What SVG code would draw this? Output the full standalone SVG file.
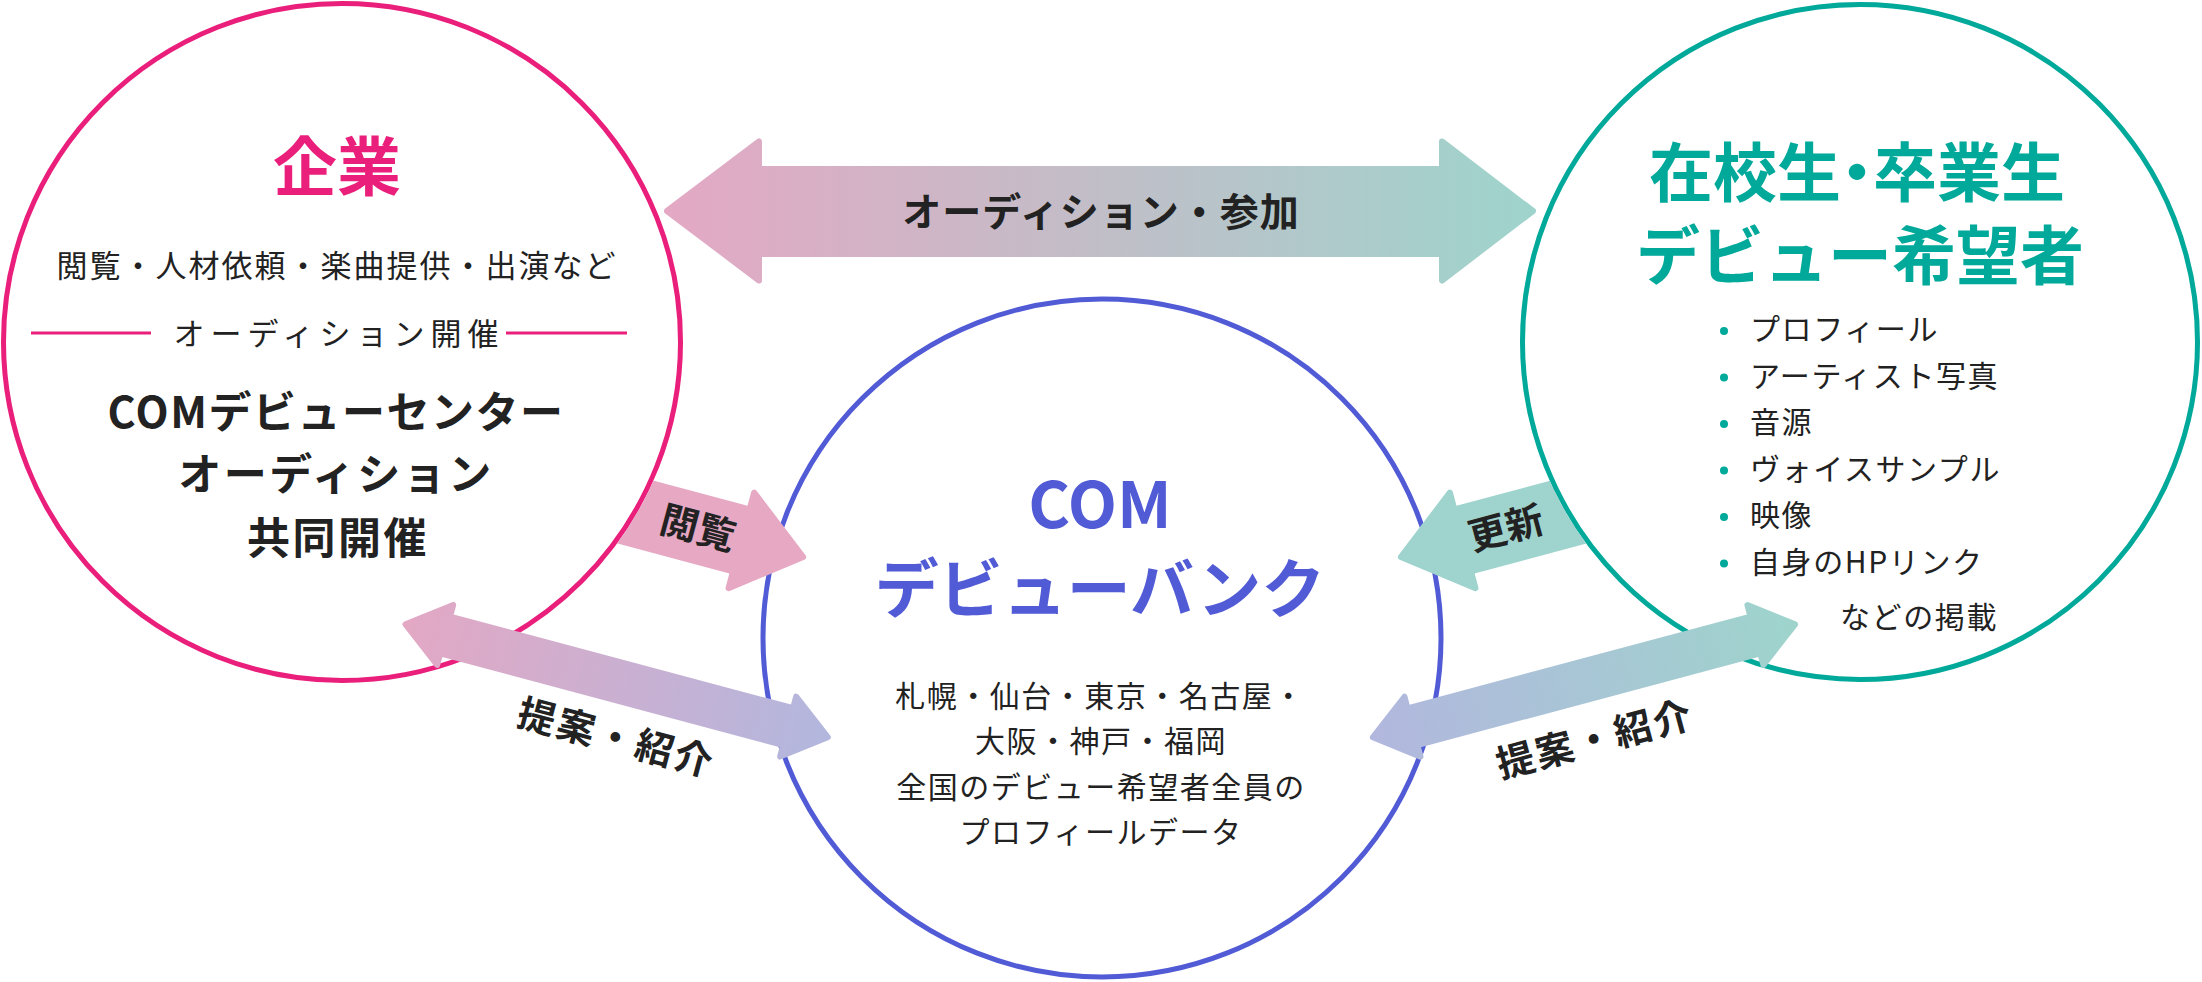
<svg xmlns="http://www.w3.org/2000/svg" width="2202" height="982" viewBox="0 0 2202 982">
<style>
text{font-family:"Noto Sans CJK JP","Noto Sans",sans-serif;text-anchor:middle}
.reg{font-weight:400;fill:#222}
.b{font-weight:700;fill:#222}
.ring{fill:#fff;stroke-width:5}
.arr{stroke-width:6;stroke-linejoin:round}
.li{text-anchor:start}
</style>
<defs>
<linearGradient id="gTop" gradientUnits="userSpaceOnUse" x1="663" y1="0" x2="1537" y2="0">
<stop offset="0" stop-color="#e4a8c4"/><stop offset="1" stop-color="#9ed4cc"/>
</linearGradient>
<linearGradient id="gL" gradientUnits="userSpaceOnUse" x1="0" y1="0" x2="445" y2="0">
<stop offset="0" stop-color="#e3a8c4"/><stop offset="1" stop-color="#b2b7de"/>
</linearGradient>
<linearGradient id="gR" gradientUnits="userSpaceOnUse" x1="0" y1="0" x2="445" y2="0">
<stop offset="0" stop-color="#b2b7de"/><stop offset="1" stop-color="#9ed4cc"/>
</linearGradient>
<clipPath id="outL"><path clip-rule="evenodd" d="M0,0H2202V982H0Z M342,342m-341,0a341,341 0 1,0 682,0a341,341 0 1,0 -682,0Z"/></clipPath>
<clipPath id="outR"><path clip-rule="evenodd" d="M0,0H2202V982H0Z M1860,342m-340,0a340,340 0 1,0 680,0a340,340 0 1,0 -680,0Z"/></clipPath>
</defs>
<rect width="2202" height="982" fill="#fff"/>

<g id="node-bank">
<circle class="ring" cx="1102" cy="638" r="339" stroke="#525bd6"/>
<text x="1100" y="528" font-size="64" font-weight="700" fill="#525bd6">COM</text>
<text x="1100" y="612" font-size="64" font-weight="700" fill="#525bd6">デビューバンク</text>
<text class="reg" x="1100" y="707" font-size="30" letter-spacing="1.5">札幌・仙台・東京・名古屋・</text>
<text class="reg" x="1101" y="752" font-size="30" letter-spacing="1.5">大阪・神戸・福岡</text>
<text class="reg" x="1101" y="798" font-size="30" letter-spacing="1.5">全国のデビュー希望者全員の</text>
<text class="reg" x="1101" y="843" font-size="30" letter-spacing="1.5">プロフィールデータ</text>
</g>

<g id="node-company">
<circle class="ring" cx="342" cy="342" r="338.5" stroke="#ea1f7c"/>
<text x="337" y="190" font-size="64" font-weight="700" fill="#ea1f7c">企業</text>
<text class="reg" x="337" y="277" font-size="31" letter-spacing="2">閲覧・人材依頼・楽曲提供・出演など</text>
<line x1="31" y1="333" x2="151" y2="333" stroke="#ea1f7c" stroke-width="3"/>
<line x1="506" y1="333" x2="627" y2="333" stroke="#ea1f7c" stroke-width="3"/>
<text class="reg" x="339" y="345" font-size="31" letter-spacing="6">オーディション開催</text>
<text class="b" x="336" y="428" font-size="43" letter-spacing="1.5">COMデビューセンター</text>
<text class="b" x="336" y="490" font-size="43" letter-spacing="2.5">オーディション</text>
<text class="b" x="338" y="554" font-size="43" letter-spacing="2.5">共同開催</text>
</g>

<g id="node-students">
<circle class="ring" cx="1860" cy="342" r="337.5" stroke="#00a99a"/>
<text x="1857" y="196" font-size="64" font-weight="700" fill="#00a99a" style="font-feature-settings:'halt'">在校生・卒業生</text>
<text x="1860" y="279" font-size="64" font-weight="700" fill="#00a99a">デビュー希望者</text>
<g fill="#00a99a">
<circle cx="1724" cy="331" r="4"/>
<circle cx="1724" cy="377.5" r="4"/>
<circle cx="1724" cy="424" r="4"/>
<circle cx="1724" cy="470.5" r="4"/>
<circle cx="1724" cy="517" r="4"/>
<circle cx="1724" cy="563.5" r="4"/>
</g>
<g class="reg" font-size="30" letter-spacing="1.6">
<text class="li" x="1750" y="340">プロフィール</text>
<text class="li" x="1750" y="386.5">アーティスト写真</text>
<text class="li" x="1750" y="433">音源</text>
<text class="li" x="1750" y="479.5">ヴォイスサンプル</text>
<text class="li" x="1750" y="526">映像</text>
<text class="li" x="1750" y="572.5">自身のHPリンク</text>
<text class="li" x="1840" y="628">などの掲載</text>
</g>
</g>

<g id="connectors">
<g clip-path="url(#outL)">
<polygon class="arr" fill="#e6a8c2" stroke="#e6a8c2" transform="translate(807 558) rotate(15)" points="-4,0 -68,-49.5 -68,-32 -260,-32 -260,32 -68,32 -68,49.5"/>
</g>
<g clip-path="url(#outR)">
<polygon class="arr" fill="#9fd3cd" stroke="#9fd3cd" transform="translate(1397 558) scale(-1 1) rotate(15)" points="-4,0 -68,-49.5 -68,-32 -260,-32 -260,32 -68,32 -68,49.5"/>
</g>
<polygon class="arr" fill="url(#gTop)" stroke="url(#gTop)" points="667,211 759,141.5 759,169 1442,169 1442,141.5 1533,211 1442,280.5 1442,254 759,254 759,280.5"/>
<polygon class="arr" fill="url(#gL)" stroke="url(#gL)" transform="translate(401.7 623.3) rotate(14.97)" points="4,0 45,-31 45,-19 400,-19 400,-31 441,0 400,31 400,19 45,19 45,31"/>
<polygon class="arr" fill="url(#gR)" stroke="url(#gR)" transform="translate(1369 738.3) rotate(-14.97)" points="4,0 45,-31 45,-19 400,-19 400,-31 441,0 400,31 400,19 45,19 45,31"/>
<text class="b" x="1101" y="226" font-size="39" letter-spacing="1">オーディション・参加</text>
<text class="b" transform="translate(807 558) rotate(15)" x="-113" y="13" font-size="38">閲覧</text>
<text class="b" transform="translate(1397 558) rotate(-15)" x="113" y="13" font-size="38">更新</text>
<text class="b" transform="translate(401.7 623.3) rotate(14.97)" x="237" y="69" font-size="38" letter-spacing="2.5">提案・紹介</text>
<text class="b" transform="translate(1369 738.3) rotate(-14.97)" x="218" y="73" font-size="38" letter-spacing="2.5">提案・紹介</text>
</g>
</svg>
